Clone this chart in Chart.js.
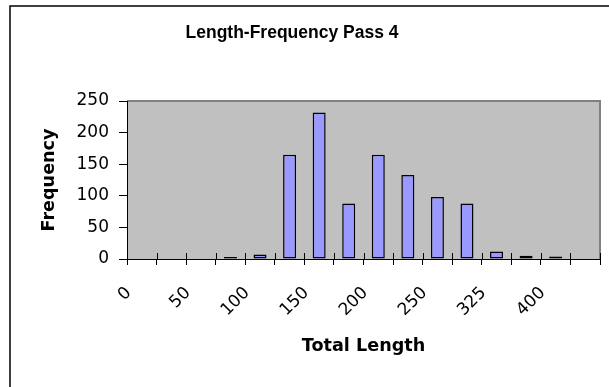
<!DOCTYPE html>
<html>
<head>
<meta charset="utf-8">
<script src="https://cdn.jsdelivr.net/npm/chart.js@4.4.1/dist/chart.umd.min.js"></script>
<style>
  html, body { margin: 0; padding: 0; background: #ffffff; }
  #wrap { width: 609px; height: 387px; position: relative; }
</style>
</head>
<body>
<div id="wrap"><canvas id="lenFreq"></canvas></div>
<script>
// Length-frequency histogram, pass 4
var chartTitle = 'Length-Frequency Pass 4';
var xTitle = 'Total Length';
var yTitle = 'Frequency';

// one entry per bin; only every other bin carries a label in the original
var binLabels = ['0', '', '50', '', '100', '', '150', '', '200', '', '250', '', '325', '', '400', ''];
var frequency = [0, 0, 0, 3, 7, 165, 232, 88, 165, 133, 98, 88, 12, 5, 4, 0];

var yMin = 0, yMax = 250, yStep = 50;

var TITLE_FONT = 'Liberation Sans, Arial, sans-serif';
var AXIS_FONT = 'DejaVu Sans, Verdana, sans-serif';

// grey plot background, grey top/right frame, outer chart frame, title
var excelLook = {
    id: 'excelLook',
    beforeDraw: function (chart) {
        var ctx = chart.ctx;
        var a = chart.chartArea;
        ctx.save();
        ctx.fillStyle = '#ffffff';
        ctx.fillRect(0, 0, chart.width, chart.height);
        ctx.fillStyle = '#c0c0c0';
        ctx.fillRect(a.left, a.top, a.right - a.left, a.bottom - a.top);
        ctx.strokeStyle = '#808080';
        ctx.lineWidth = 2;
        ctx.beginPath();
        ctx.moveTo(a.left, a.top);
        ctx.lineTo(a.right, a.top);
        ctx.lineTo(a.right, a.bottom);
        ctx.stroke();
        // chart border (cropped on right and bottom)
        ctx.strokeStyle = '#000000';
        ctx.lineWidth = 1.5;
        ctx.beginPath();
        ctx.moveTo(10, chart.height + 2);
        ctx.lineTo(10, 6);
        ctx.lineTo(chart.width + 2, 6);
        ctx.stroke();
        ctx.restore();
    },
    afterDraw: function (chart) {
        var ctx = chart.ctx;
        var x = chart.scales.x;
        ctx.save();
        // x tick marks cross the axis: draw the inner half
        ctx.strokeStyle = '#000000';
        ctx.lineWidth = 1;
        ctx.beginPath();
        for (var i = 0; i <= binLabels.length; i++) {
            var px = Math.round(x.getPixelForValue(i - 0.5)) + 0.5;
            ctx.moveTo(px, x.top - 6);
            ctx.lineTo(px, x.top);
        }
        ctx.stroke();
        ctx.fillStyle = '#000000';
        ctx.font = 'bold 17.5px ' + TITLE_FONT;
        ctx.textAlign = 'center';
        ctx.textBaseline = 'middle';
        ctx.fillText(chartTitle, 292, 33);
        ctx.restore();
    }
};

new Chart(document.getElementById('lenFreq').getContext('2d'), {
    type: 'bar',
    data: {
        labels: binLabels,
        datasets: [{
            label: yTitle,
            data: frequency,
            backgroundColor: '#9999ff',
            borderColor: '#000000',
            borderWidth: 1.5,
            borderSkipped: false,
            categoryPercentage: 1.0,
            barPercentage: 0.44
        }]
    },
    plugins: [excelLook],
    options: {
        responsive: true,
        maintainAspectRatio: false,
        animation: false,
        devicePixelRatio: 1,
        layout: { padding: { top: 101, right: 9, bottom: 0, left: 0 } },
        plugins: {
            legend: { display: false },
            title: { display: false },
            tooltip: { enabled: false }
        },
        scales: {
            x: {
                offset: true,
                grid: {
                    display: true,
                    offset: true,
                    drawOnChartArea: false,
                    drawTicks: true,
                    tickLength: 6,
                    tickColor: '#000000'
                },
                border: { display: true, color: '#000000', width: 1 },
                ticks: {
                    autoSkip: false,
                    minRotation: 45,
                    maxRotation: 45,
                    color: '#000000',
                    font: { size: 17, family: AXIS_FONT },
                    padding: 18,
                    labelOffset: -13
                },
                title: {
                    display: true,
                    text: xTitle,
                    color: '#000000',
                    font: { size: 17.6, weight: 'bold', family: AXIS_FONT },
                    padding: { top: 0, bottom: 30 }
                },
                afterFit: function (scale) {
                    scale.height = 128;
                    scale.paddingLeft = 0;
                    scale.paddingRight = 0;
                }
            },
            y: {
                min: yMin,
                max: yMax,
                grid: {
                    display: true,
                    drawOnChartArea: false,
                    drawTicks: true,
                    tickLength: 8,
                    tickColor: '#000000'
                },
                border: { display: true, color: '#000000', width: 1 },
                ticks: {
                    stepSize: yStep,
                    color: '#000000',
                    font: { size: 17, family: AXIS_FONT },
                    padding: 10
                },
                title: {
                    display: true,
                    text: yTitle,
                    color: '#000000',
                    font: { size: 17.6, weight: 'bold', family: AXIS_FONT },
                    padding: { top: 39, bottom: 0 }
                },
                afterFit: function (scale) { scale.width = 127; }
            }
        }
    }
});
</script>
</body>
</html>
